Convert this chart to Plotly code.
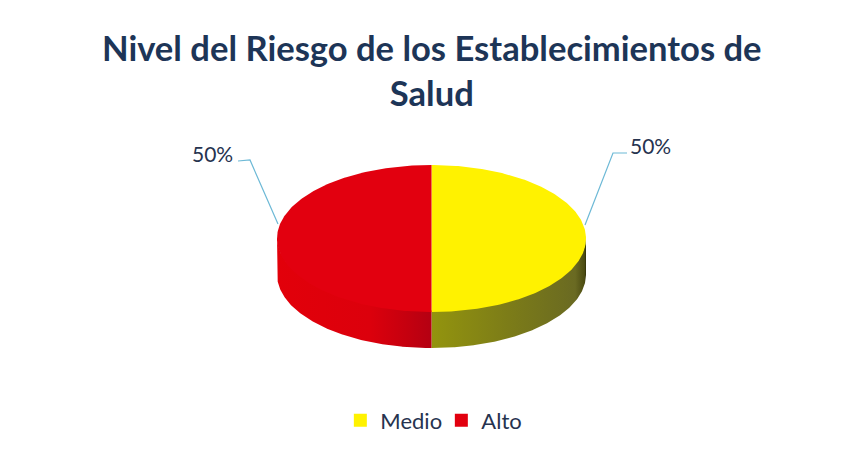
import numpy as np
import plotly.graph_objects as go

TITLE = "Nivel del Riesgo de los Establecimientos de<br>Salud"
categories = ["Medio", "Alto"]
values = [50, 50]
top_colors = ["#FFF200", "#E2000F"]
side_scales = [
    [[0, "#93940E"], [0.5, "#7C7C18"], [0.93, "#6A6A22"], [0.99, "#4C4C12"], [1, "#2E2E08"]],
    [[0, "#E2000A"], [0.6, "#DC000C"], [0.85, "#C4000F"], [1, "#B40012"]],
]
TEXT = "#26334F"
LEADER = "#6DB9D6"

CX, CY, RX, RY, DEPTH = 431.5, 238.5, 154.5, 73.5, 36


def ell(t):
    """t measured clockwise from 12 o'clock."""
    return CX + RX * np.sin(t), CY - RY * np.cos(t)


fig = go.Figure()
shares = np.array(values, float) / sum(values)
edges = np.concatenate([[0], np.cumsum(shares)]) * 2 * np.pi

# Side wall: only the front half of the ellipse (pi/2..3pi/2) is visible
for i in range(len(values)):
    a0, a1 = max(edges[i], np.pi / 2), min(edges[i + 1], 3 * np.pi / 2)
    if a1 <= a0:
        continue
    t = np.linspace(a0, a1, 200)
    x, y = ell(t)
    top = y - 1.5  # tucks under the top face so no seam shows
    px = np.concatenate([x, x[::-1], x[:1]])
    py = np.concatenate([top, (y + DEPTH)[::-1], top[:1]])
    fig.add_trace(go.Scatter(x=px, y=py, mode="lines", fill="toself",
                             fillgradient=dict(type="horizontal", colorscale=side_scales[i]),
                             line=dict(width=0), showlegend=False, hoverinfo="skip"))

# Top face slices
for i, cat in enumerate(categories):
    t = np.linspace(edges[i], edges[i + 1], 200)
    x, y = ell(t)
    px = np.concatenate([[CX], x, [CX]])
    py = np.concatenate([[CY], y, [CY]])
    fig.add_trace(go.Scatter(x=px, y=py, mode="lines", fill="toself", fillcolor=top_colors[i],
                             line=dict(width=0, color=top_colors[i]), showlegend=False,
                             name=cat, hoverinfo="name"))

# Legend entries
for i, cat in enumerate(categories):
    fig.add_trace(go.Scatter(x=[None], y=[None], mode="markers", name=cat,
                             marker=dict(symbol="square", size=13, color=top_colors[i])))

# Leader lines and percentage labels
for (xs, ys) in [([238, 250, 278], [161, 160, 224]), ([585, 613, 627], [225, 153, 153])]:
    fig.add_trace(go.Scatter(x=xs, y=ys, mode="lines", line=dict(color=LEADER, width=1.2),
                             showlegend=False, hoverinfo="skip"))
for i, (lx, ly) in enumerate([(650, 145), (212, 153.5)]):
    fig.add_annotation(x=lx, y=ly, text=f"{round(shares[i] * 100)}%", showarrow=False,
                       font=dict(family="Lato", size=21, color=TEXT))

fig.update_xaxes(visible=False, range=[0, 845], fixedrange=True)
fig.update_yaxes(visible=False, range=[457, 0], fixedrange=True)
fig.update_layout(
    width=845, height=457, margin=dict(l=0, r=0, t=0, b=0),
    paper_bgcolor="#FFFFFF", plot_bgcolor="#FFFFFF",
    title=dict(text=TITLE, x=0.511, xanchor="center", y=0.866, yanchor="middle",
               font=dict(family="Lato", size=34.6, color="#1D3557", weight="bold")),
    legend=dict(orientation="h", x=0.5223, xanchor="center", y=0.08, yanchor="middle",
                font=dict(family="Lato", size=22, color=TEXT), itemwidth=30,
                entrywidth=56, entrywidthmode="pixels",
                bgcolor="rgba(0,0,0,0)"),
)
fig.write_html("out.html", config={"displayModeBar": False},
               post_script="document.body.style.margin='0';document.body.style.overflow='hidden';")
